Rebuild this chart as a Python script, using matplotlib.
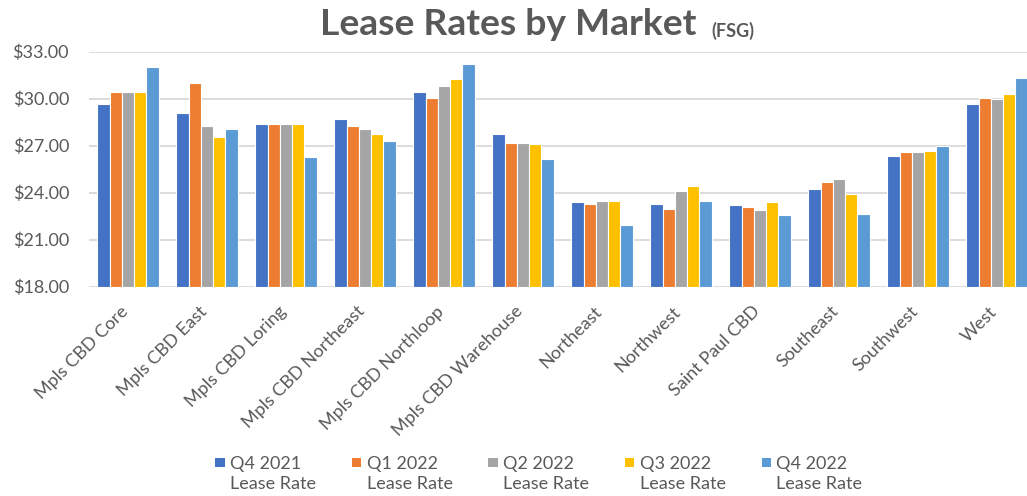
import matplotlib
matplotlib.use("Agg")
import matplotlib.pyplot as plt
import numpy as np
from matplotlib.patches import Rectangle
from matplotlib.legend_handler import HandlerPatch
import matplotlib.transforms as mtransforms

markets = ["Mpls CBD Core", "Mpls CBD East", "Mpls CBD Loring", "Mpls CBD Northeast",
           "Mpls CBD Northloop", "Mpls CBD Warehouse", "Northeast", "Northwest",
           "Saint Paul CBD", "Southeast", "Southwest", "West"]
series_names = ["Q4 2021\nLease Rate", "Q1 2022\nLease Rate", "Q2 2022\nLease Rate",
                "Q3 2022\nLease Rate", "Q4 2022\nLease Rate"]
q4_2021 = [29.65, 29.10, 28.37, 28.69, 30.40, 27.72, 23.38, 23.28, 23.19, 24.24, 26.36, 29.65]
q1_2022 = [30.40, 31.00, 28.37, 28.26, 30.05, 27.19, 23.28, 22.96, 23.09, 24.67, 26.57, 30.05]
q2_2022 = [30.40, 28.26, 28.37, 28.05, 30.80, 27.19, 23.49, 24.13, 22.87, 24.88, 26.57, 29.95]
q3_2022 = [30.40, 27.53, 28.37, 27.72, 31.23, 27.08, 23.49, 24.45, 23.38, 23.92, 26.68, 30.27]
q4_2022 = [32.00, 28.06, 26.25, 27.29, 32.19, 26.17, 21.91, 23.49, 22.55, 22.66, 26.97, 31.33]
yticks = [18, 21, 24, 27, 30, 33]

colors = ["#4472C4", "#ED7D31", "#A5A5A5", "#FFC000", "#5B9BD5"]
FONT = "Lato"
GREY = "#595959"

fig = plt.figure(figsize=(10.27, 4.96), dpi=100)
ax = fig.add_axes([88.5 / 1027, (496 - 286.7) / 496, 948 / 1027, (286.7 - 51.7) / 496])

all_series = [q4_2021, q1_2022, q2_2022, q3_2022, q4_2022]
x = np.arange(len(markets))
pitch = 0.156
handles = []
for i, (vals, c, name) in enumerate(zip(all_series, colors, series_names)):
    offs = (i - 2) * pitch
    b = ax.bar(x + offs, np.array(vals) - 18, bottom=18, width=pitch, color=c,
               edgecolor="white", linewidth=0.8, label=name, zorder=3)
    handles.append(b)

ax.set_ylim(18, 33)
ax.set_xlim(-0.5, len(markets) - 0.5)
ax.set_yticks(yticks)
ax.set_yticklabels([f"${v:.2f}" for v in yticks], fontfamily=FONT, fontsize=13, color=GREY)
ax.yaxis.grid(True, color="#D9D9D9", linewidth=1.3, zorder=0)
ax.set_axisbelow(True)
for s in ax.spines.values():
    s.set_visible(False)
ax.tick_params(axis="y", length=0, pad=14)
ax.tick_params(axis="x", length=0, pad=16)
ax.set_xticks(x)
ax.set_xticklabels(markets, rotation=45, ha="right", va="center", rotation_mode="anchor",
                   fontfamily=FONT, fontsize=13, color=GREY)
offset = mtransforms.ScaledTranslation(-2 / 72, 0, fig.dpi_scale_trans)
for lbl in ax.get_xticklabels():
    lbl.set_transform(lbl.get_transform() + offset)

fig.text(0.495, 0.950, "Lease Rates by Market", ha="center", va="center",
         fontfamily=FONT, fontsize=26.8, fontweight="bold", color=GREY)
fig.text(0.693, 0.937, "(FSG)", ha="left", va="center",
         fontfamily=FONT, fontsize=13, fontweight="bold", color=GREY)


class UpHandler(HandlerPatch):
    def create_artists(self, legend, orig_handle, xdescent, ydescent, width, height, fontsize, trans):
        s = 6.8
        p = Rectangle((-xdescent + width - s, -ydescent + (height - s) / 2 + 0.62 * fontsize), s, s,
                      facecolor=orig_handle.patches[0].get_facecolor(), edgecolor="none", transform=trans)
        return [p]


leg = fig.legend(handles=handles, labels=series_names, loc="center", ncol=5,
                 bbox_to_anchor=(0.524, 0.045), frameon=False,
                 prop={"family": FONT, "size": 13}, handlelength=0.6, handletextpad=0.3,
                 columnspacing=1.9, handler_map={type(handles[0]): UpHandler()})
for t in leg.get_texts():
    t.set_color(GREY)
    t.set_linespacing(1.3)

fig.savefig("out.png", dpi=100)
